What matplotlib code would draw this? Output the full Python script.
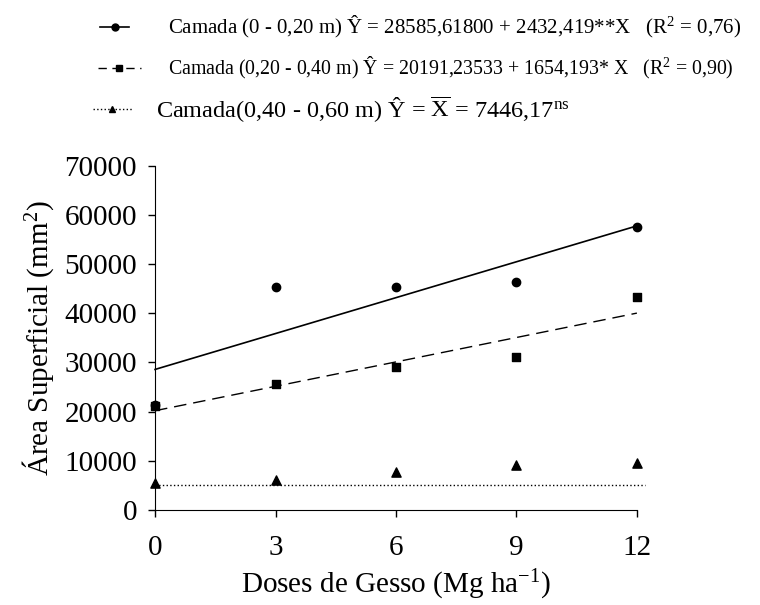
import numpy as np
import matplotlib.pyplot as plt
from matplotlib.lines import Line2D

plt.rcParams['font.family'] = ['Liberation Serif', 'DejaVu Serif']
plt.rcParams['mathtext.fontset'] = 'custom'
plt.rcParams['mathtext.rm'] = 'Liberation Serif'
plt.rcParams['mathtext.it'] = 'Liberation Serif:italic'

# Dados
doses = np.array([0, 3, 6, 9, 12])
camada1 = np.array([21400, 45400, 45400, 46300, 57500])   # 0 - 0,20 m
camada2 = np.array([21200, 25600, 29100, 31100, 43300])   # 0,20 - 0,40 m
camada3 = np.array([5400, 6100, 7800, 9200, 9500])        # 0,40 - 0,60 m

# Coeficientes das regressoes
a1, b1 = 28585.61800, 2432.419
a2, b2 = 20191.23533, 1654.193
nivel3 = 5100          # linha media como desenhada
x_fim3 = 12.2

legendas = [
    "Camada (0 - 0,20 m) Ŷ = 28585,61800 + 2432,419**X   (R$^{2}$ = 0,76)",
    "Camada (0,20 - 0,40 m) Ŷ = 20191,23533 + 1654,193* X   (R$^{2}$ = 0,90)",
    r"Camada(0,40 - 0,60 m) Ŷ = $\overline{\mathrm{X}}$ = 7446,17$^{\mathrm{ns}}$",
]

fig = plt.figure(figsize=(7.6, 6.05), dpi=100)
ax = fig.add_axes([0.204, 0.157, 0.634, 0.569])

xr = np.array([0, 12])
ax.plot(xr, a1 + b1 * xr, color='black', lw=1.2, clip_on=False)
ax.plot(xr, a2 + b2 * xr, color='black', lw=1.0, dashes=(9, 5), clip_on=False)
ax.plot([0, x_fim3], [nivel3, nivel3], color='black', lw=1.0, ls=':', clip_on=False)

ax.scatter(doses, camada1, marker='o', s=36, color='black', zorder=3, clip_on=False)
ax.scatter(doses, camada2, marker='s', s=40, color='black', zorder=3, clip_on=False)
ax.scatter(doses, camada3, marker='^', s=44, color='black', zorder=3, clip_on=False)

ax.set_xlim(0, 12)
ax.set_ylim(0, 70000)
ax.set_xticks([0, 3, 6, 9, 12])
ax.set_yticks(np.arange(0, 70001, 10000))
ax.spines['top'].set_visible(False)
ax.spines['right'].set_visible(False)
ax.tick_params(direction='out', length=5, width=1, labelsize=21, pad=8)
ax.tick_params(axis='x', pad=13)
ax.set_xlabel("Doses de Gesso (Mg ha$^{-1}$)", fontsize=21, labelpad=5)
ax.set_ylabel("Área Superficial (mm$^{2}$)", fontsize=21, labelpad=6)

# legenda manual
estilos = [
    dict(ls='-', marker='o', lw=1.2),
    dict(ls=(0, (6, 4)), marker='s', lw=1.0),
    dict(ls=':', marker='^', lw=1.0),
]
ys = [1 - 27 / 605, 1 - 68 / 605, 1 - 109 / 605]
hx = [(100, 129), (98, 141), (93, 132)]
tx = [168, 168, 156]
tam = [15, 14.3, 17.5]
for est, y, (h0, h1), t, s, lab in zip(estilos, ys, hx, tx, tam, legendas):
    fig.add_artist(Line2D([h0 / 760, h1 / 760], [y, y], color='black',
                          ls=est['ls'], lw=est['lw'], transform=fig.transFigure))
    fig.add_artist(Line2D([(h0 + h1) / 2 / 760], [y], color='black', marker=est['marker'],
                          markersize=5, ls='none', transform=fig.transFigure))
    fig.text(t / 760, y, lab, fontsize=s, va='center', ha='left')

fig.savefig('out.png', dpi=100)
